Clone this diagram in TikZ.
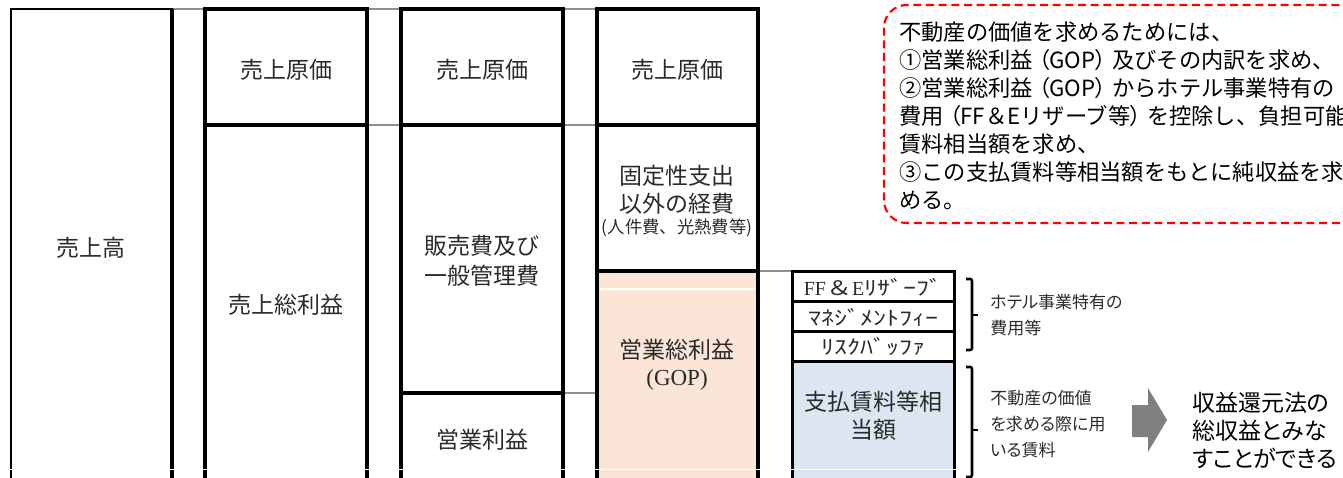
\documentclass[tikz,border=0pt]{standalone}
\usepackage{fontspec}
\setmainfont{Noto Sans CJK JP}
\newfontfamily\goth[RawFeature={+palt}]{Noto Sans CJK JP}
\newfontfamily\hwfont[FakeStretch=1.3]{Noto Sans CJK JP}
\newfontfamily\latinserif{Liberation Serif}
\newcommand\myop{\kern0.25em{\addfontfeature{RawFeature=+palt}（}}
\newcommand\mycp{{\addfontfeature{RawFeature=+palt}）}\kern0.25em}
\usetikzlibrary{fit}
\pgfdeclarelayer{bg}
\pgfsetlayers{bg,main}
\definecolor{peach}{HTML}{FBE5D6}
\definecolor{paleblue}{HTML}{DCE6F2}
\definecolor{txt}{HTML}{2B2B2B}
\definecolor{connc}{HTML}{8F8F8F}
\definecolor{arrowgray}{HTML}{808080}
\definecolor{dashred}{HTML}{FF0000}
\begin{document}
\begin{tikzpicture}[x=0.75pt,y=-0.75pt,
  blk/.style={draw=black, line width=3pt, inner sep=0pt, outer sep=0pt},
  thinblk/.style={draw=black, line width=2.25pt, inner sep=0pt, outer sep=0pt},
  conn/.style={draw=connc, line width=1.8pt},
  lbl/.style={text=txt, inner sep=0pt, align=center, font=\fontsize{17.25pt}{21pt}\selectfont},
  small/.style={text=txt, inner sep=0pt, align=left, font=\goth\fontsize{12.75pt}{19.5pt}\selectfont},
  hw/.style={text=txt, inner sep=0pt, font=\hwfont\fontsize{15pt}{18pt}\selectfont},
  brace/.style={draw=black, line width=1.9pt, rounded corners=1.5pt}]
\useasboundingbox (0,0) rectangle (1343,478);
\clip (0,0) rectangle (1343,478);
% filled boxes first
\node[blk, fill=peach, fit={(597,271) (758,520)}] (c4c) {};
\node[thinblk, fill=paleblue, fit={(792,361) (954,520)}] (c5d) {};
% column 1
\node[draw=black, line width=1.5pt, inner sep=0pt, outer sep=0pt, fit={(11,9) (172,520)}] (c1) {};
\draw[line width=3pt] (c1.north east) -- (c1.south east);
% column 2
\node[blk, fit={(205,9) (367,125)}] (c2a) {};
\node[blk, fit={(205,125) (367,520)}] (c2b) {};
% column 3
\node[blk, fit={(401,9) (563,125)}] (c3a) {};
\node[blk, fit={(401,125) (563,393)}] (c3b) {};
\node[blk, fit={(401,393) (563,520)}] (c3c) {};
% column 4
\node[blk, fit={(597,9) (758,125)}] (c4a) {};
\node[blk, fit={(597,125) (758,271)}] (c4b) {};
% column 5
\node[thinblk, fit={(792,271) (954,301)}] (c5a) {};
\node[thinblk, fit={(792,301) (954,331)}] (c5b) {};
\node[thinblk, fit={(792,331) (954,361)}] (c5c) {};
% white artefact lines
\draw[white, line width=0.9pt] (600,289) -- (755,289);
\draw[white, line width=0.9pt] (0,469.5) -- (958,469.5);
% gray connectors (behind the boxes)
\begin{pgfonlayer}{bg}
\draw[conn] (c1.north east) -- (c2a.north west);
\draw[conn] (c2a.north east) -- (c3a.north west);
\draw[conn] (c2a.south east) -- (c3a.south west);
\draw[conn] (c3a.north east) -- (c4a.north west);
\draw[conn] (c3a.south east) -- (c4a.south west);
\draw[conn] (c3b.south east) -- (c3b.south east -| c4c.west);
\draw[conn] (c4b.south east) -- (c5a.north west);
\end{pgfonlayer}
% labels
\node[lbl] (l1) at (91,248) {売上高};
\node[lbl] (l2a) at (286,70) {売上原価};
\node[lbl] (l2b) at (286,305) {売上総利益};
\node[lbl] (l3a) at (482,70) {売上原価};
\node[lbl, font=\fontsize{17.25pt}{22.5pt}\selectfont] (l3b) at (482,261) {販売費及び\\一般管理費};
\node[lbl] (l3c) at (482,440) {営業利益};
\node[lbl] (l4a) at (677,70) {売上原価};
\node[lbl, font=\fontsize{17.25pt}{21pt}\selectfont] (l4b) at (677,190) {固定性支出\\以外の経費};
\node[lbl, font=\fontsize{13pt}{15pt}\selectfont] (l4b2) at (677,228) {(人件費、光熱費等)};
\node[lbl] (l4c) at (677,350) {営業総利益};
\node[lbl, font=\latinserif\fontsize{17.25pt}{21pt}\selectfont] (l4c2) at (677,380) {(GOP)};
\node[hw] (l5a) at (873,287) {{\latinserif FF}＆{\latinserif E}ﾘｻﾞｰﾌﾞ};
\node[hw] (l5b) at (873,317) {ﾏﾈｼﾞﾒﾝﾄﾌｨｰ};
\node[hw] (l5c) at (873,347) {ﾘｽｸﾊﾞｯﾌｧ};
\node[lbl, font=\fontsize{17.25pt}{21pt}\selectfont] (l5d) at (873,416) {支払賃料等相\\当額};
% braces
\draw[brace] (966,279) -- (972,279) -- (972,350) -- (966,350);
\draw[brace] (972,315) -- (978,315);
\draw[brace] (966,367) -- (972,367) -- (972,477) -- (966,477);
\draw[brace] (972,430) -- (978,430);
\node[small, anchor=west] (h1) at (990,315) {ホテル事業特有の\\費用等};
\node[small, anchor=west] (h2) at (990,424) {不動産の価値\\を求める際に用\\いる賃料};
% arrow
\fill[arrowgray] (1132,405) -- (1148,405) -- (1148,388) -- (1167,420) -- (1148,452) -- (1148,437) -- (1132,437) -- cycle;
\node[inner sep=0pt, anchor=west, align=left, text=black, font=\goth\fontsize{17.25pt}{21pt}\selectfont] (res) at (1192,430) {収益還元法の\\総収益とみな\\すことができる};
% dashed note
\draw[dashred, line width=1.6pt, dash pattern=on 6pt off 3.5pt, rounded corners=17pt] (884,5) rectangle (1420,223);
\node[inner sep=0pt, anchor=west, align=left, text=black, font=\fontsize{16.7pt}{21pt}\selectfont] (note) at (899,116) {不動産の価値を求めるためには、\\①営業総利益\myop GOP\mycp 及びその内訳を求め、\\②営業総利益\myop GOP\mycp からホテル事業特有の\\費用\myop FF＆Eリザーブ等\mycp を控除し、負担可能\\賃料相当額を求め、\\③この支払賃料等相当額をもとに純収益を求\\める。};
\end{tikzpicture}
\end{document}
